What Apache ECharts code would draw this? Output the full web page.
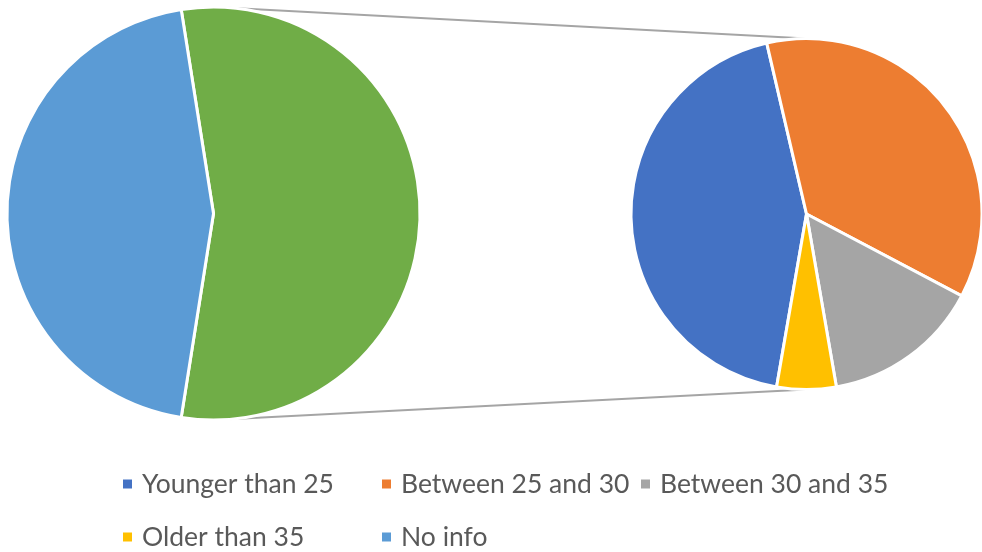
<!DOCTYPE html>
<html>
<head>
<meta charset="utf-8">
<script src="https://cdn.jsdelivr.net/npm/echarts@6/dist/echarts.min.js"></script>
<style>
  html, body { margin: 0; padding: 0; background: #fff; }
  #chart { width: 982px; height: 552px; }
</style>
</head>
<body>
<div id="chart"></div>
<script>
// Age groups shown in the breakout pie, with respondent counts
const ageGroups = ['Younger than 25', 'Between 25 and 30', 'Between 30 and 35', 'Older than 35'];
const ageCounts = [24, 20, 8, 3];
// Remaining category kept in the main pie
const noInfoLabel = 'No info';
const noInfoCount = 45;
const otherLabel = 'Other';

const ageColors = ['#4472C4', '#ED7D31', '#A5A5A5', '#FFC000'];
const noInfoColor = '#5B9BD5';
const otherColor = '#70AD47';

// Pie geometry
const mainCenter = [213.5, 213.5], mainRadius = 206.5;
const subCenter = [806.5, 214], subRadius = 175.5;

const groupTotal = ageCounts.reduce((a, b) => a + b, 0);
const total = groupTotal + noInfoCount;
// Main pie: the grouped slice is centred on the right (3 o'clock)
const mainStart = (groupTotal / total) * 180;
// Breakout pie: the last age group is centred at the bottom
const subStart = 270 - (ageCounts[ageCounts.length - 1] / groupTotal) * 180;

const chart = echarts.init(document.getElementById('chart'), null, { renderer: 'canvas' });

const connectorStyle = { stroke: '#A5A5A5', lineWidth: 2 };

chart.setOption({
  animation: false,
  backgroundColor: '#ffffff',
  legend: {
    data: ageGroups.concat([noInfoLabel]),
    left: 121,
    top: 460,
    width: 790,
    padding: 0,
    itemGap: 5,
    itemWidth: 11,
    itemHeight: 11,
    icon: 'rect',
    selectedMode: false,
    textStyle: {
      fontFamily: 'Lato',
      fontSize: 26.5,
      color: '#595959',
      width: 233,
      lineHeight: 48,
      padding: [0, 0, 0, 4]
    }
  },
  graphic: [
    {
      type: 'line',
      z: 0,
      shape: { x1: mainCenter[0], y1: mainCenter[1] - mainRadius, x2: subCenter[0], y2: subCenter[1] - subRadius },
      style: connectorStyle
    },
    {
      type: 'line',
      z: 0,
      shape: { x1: mainCenter[0], y1: mainCenter[1] + mainRadius, x2: subCenter[0], y2: subCenter[1] + subRadius },
      style: connectorStyle
    }
  ],
  series: [
    {
      type: 'pie',
      center: mainCenter,
      radius: mainRadius,
      startAngle: mainStart,
      clockwise: true,
      label: { show: false },
      labelLine: { show: false },
      emphasis: { disabled: true },
      itemStyle: { borderColor: '#ffffff', borderWidth: 3 },
      data: [
        { name: otherLabel, value: groupTotal, itemStyle: { color: otherColor } },
        { name: noInfoLabel, value: noInfoCount, itemStyle: { color: noInfoColor } }
      ]
    },
    {
      type: 'pie',
      center: subCenter,
      radius: subRadius,
      startAngle: subStart,
      clockwise: true,
      label: { show: false },
      labelLine: { show: false },
      emphasis: { disabled: true },
      itemStyle: { borderColor: '#ffffff', borderWidth: 3 },
      data: ageGroups.map((name, i) => ({ name, value: ageCounts[i], itemStyle: { color: ageColors[i] } }))
    }
  ]
});
</script>
</body>
</html>
